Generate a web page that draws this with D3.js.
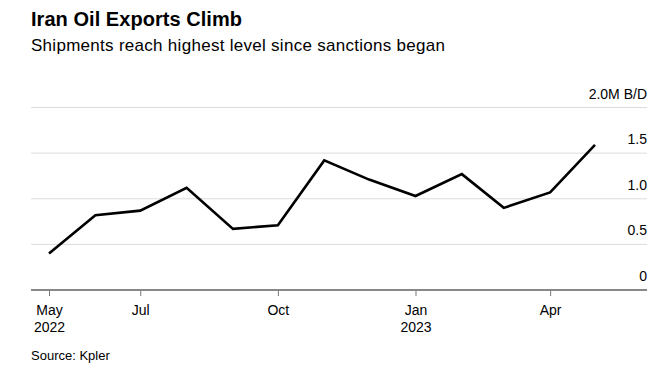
<!DOCTYPE html>
<html>
<head>
<meta charset="utf-8">
<script src="https://cdn.jsdelivr.net/npm/d3@7"></script>
<style>
  body { margin: 0; background: #fff; }
  svg { font-family: "Liberation Sans", Arial, sans-serif; }
</style>
</head>
<body>
<div id="chart"></div>
<script>
const months = ['2022-05', '2022-06', '2022-07', '2022-08', '2022-09', '2022-10', '2022-11',
  '2022-12', '2023-01', '2023-02', '2023-03', '2023-04', '2023-05'];
const exports = [0.40, 0.82, 0.87, 1.12, 0.67, 0.71, 1.42, 1.21, 1.03, 1.27, 0.90, 1.07, 1.59];
const yTicks = [0, 0.5, 1.0, 1.5, 2.0];
const yTickLabels = ['0', '0.5', '1.0', '1.5', '2.0M B/D'];
const xTicks = ['2022-05', '2022-07', '2022-10', '2023-01', '2023-04'];
const xTickLabels = [['May', '2022'], ['Jul'], ['Oct'], ['Jan', '2023'], ['Apr']];

const parse = d3.timeParse('%Y-%m');
const data = months.map((m, i) => ({ date: parse(m), value: exports[i] }));

const width = 669, height = 378;
const left = 31, right = 647;

const svg = d3.select('#chart')
  .append('svg')
  .attr('width', width)
  .attr('height', height);

// titles
svg.append('text')
  .attr('x', left).attr('y', 26)
  .attr('font-size', 20).attr('font-weight', 'bold')
  .attr('fill', '#000')
  .attr('textLength', 211)
  .text('Iran Oil Exports Climb');

svg.append('text')
  .attr('x', left).attr('y', 51)
  .attr('font-size', 17)
  .attr('fill', '#000')
  .attr('textLength', 414)
  .text('Shipments reach highest level since sanctions began');

const x = d3.scaleTime()
  .domain([parse('2022-05'), parse('2023-05')])
  .range([49, 595]);

const y = d3.scaleLinear()
  .domain([0, 2])
  .range([290, 107.5]);

// gridlines
svg.append('g')
  .selectAll('line')
  .data(yTicks.filter(d => d > 0))
  .enter()
  .append('line')
  .attr('x1', left).attr('x2', right)
  .attr('y1', d => y(d)).attr('y2', d => y(d))
  .attr('stroke', '#dcdcdc')
  .attr('stroke-width', 1);

// y labels
svg.append('g')
  .selectAll('text')
  .data(yTicks)
  .enter()
  .append('text')
  .attr('x', right)
  .attr('y', d => y(d) - 9)
  .attr('text-anchor', 'end')
  .attr('font-size', 14)
  .attr('fill', '#000')
  .text((d, i) => yTickLabels[i]);

// x axis
const xAxis = svg.append('g')
  .attr('transform', `translate(0,${y(0)})`)
  .call(d3.axisBottom(x)
    .tickValues(xTicks.map(parse))
    .tickSize(6)
    .tickFormat(''));

xAxis.select('.domain').remove();
xAxis.selectAll('.tick line').attr('stroke', '#777').attr('stroke-width', 1);
xAxis.selectAll('.tick text').remove();

svg.append('line')
  .attr('x1', left).attr('x2', right)
  .attr('y1', y(0)).attr('y2', y(0))
  .attr('stroke', '#888')
  .attr('stroke-width', 2);

xAxis.selectAll('.tick')
  .each(function(d, i) {
    const t = d3.select(this).append('text')
      .attr('fill', '#000')
      .attr('font-size', 14)
      .attr('text-anchor', 'middle');
    xTickLabels[i].forEach((s, j) => {
      t.append('tspan').attr('x', 0).attr('y', 25 + j * 17).text(s);
    });
  });

// line
const line = d3.line()
  .x(d => x(d.date))
  .y(d => y(d.value));

svg.append('path')
  .datum(data)
  .attr('d', line)
  .attr('fill', 'none')
  .attr('stroke', '#000')
  .attr('stroke-width', 2.6)
  .attr('stroke-linejoin', 'miter');

svg.append('text')
  .attr('x', left).attr('y', 360)
  .attr('font-size', 13)
  .attr('fill', '#000')
  .text('Source: Kpler');
</script>
</body>
</html>
